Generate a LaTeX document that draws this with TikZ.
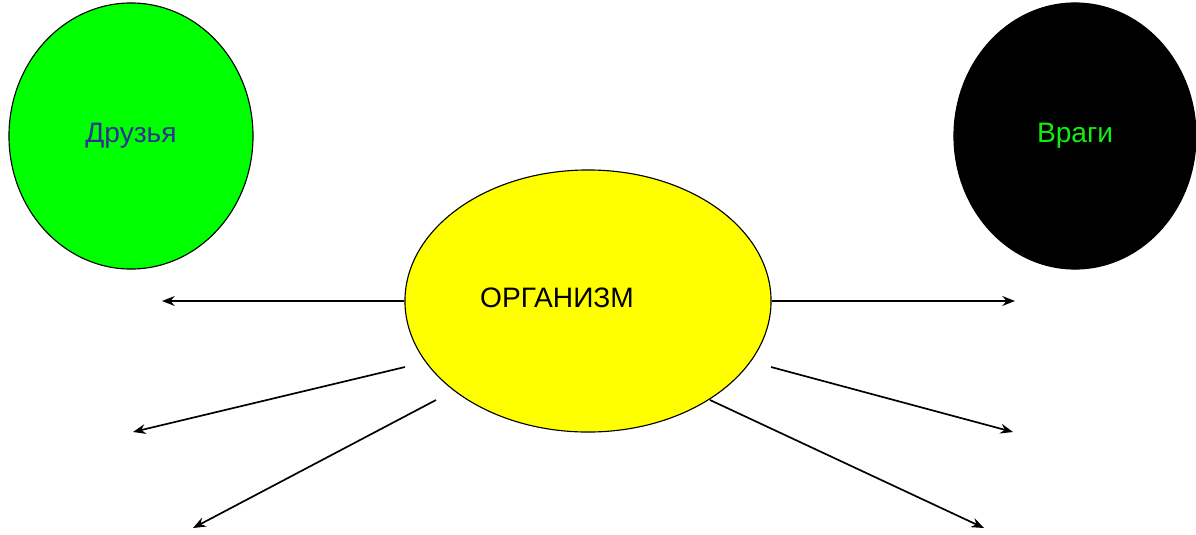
\documentclass[tikz,border=0pt]{standalone}
\usepackage{fontspec}
\setmainfont{Liberation Sans}
\usepackage{tikz}
\usetikzlibrary{arrows.meta}
\usetikzlibrary{shapes.geometric,positioning}

\definecolor{friendgreen}{HTML}{00FF00}
\definecolor{friendtext}{HTML}{2E3192}
\definecolor{enemytext}{HTML}{11EE11}
\definecolor{orgyellow}{HTML}{FFFF00}

\begin{document}
\begin{tikzpicture}[x=0.025cm,y=-0.025cm]
			\useasboundingbox (0,0) rectangle (1196,534);
			\begin{scope}[every node/.style={ellipse,draw,line width=0.8pt,inner sep=0pt,
				font=\fontsize{20}{24}\selectfont}]
				\node[fill=friendgreen,text=friendtext,minimum width=6.1cm,minimum height=6.65cm] (friends) at (131,136) {Друзья};
				\node[fill=black,text=enemytext,minimum width=6.05cm,minimum height=6.65cm] (enemies) at (1075,136) {Враги};
				\node[fill=orgyellow,minimum width=9.15cm,minimum height=6.55cm] (org) at (588,301) {};
			\end{scope}
			\node[font=\fontsize{20}{24}\selectfont,inner sep=0pt] (orglabel) at (557,298) {ОРГАНИЗМ};

			\coordinate (l1) at (162,301);
			\coordinate (r1) at (1015,301);
			\coordinate (s2) at (405,367);
			\coordinate (l2) at (133,432);
			\coordinate (s3) at (436,400);
			\coordinate (l3) at (193,528);
			\coordinate (t2) at (771,367);
			\coordinate (r2) at (1013,432);
			\coordinate (t3) at (710,400);
			\coordinate (r3) at (984,528);

			\begin{scope}[>={Stealth[length=9pt,width=7pt]},
				every path/.style={line width=1.2pt}]
				\draw[->] (org.west) -- (l1);
				\draw[->] (org.east) -- (r1);
				\draw[->] (s2) -- (l2);
				\draw[->] (s3) -- (l3);
				\draw[->] (t2) -- (r2);
				\draw[->] (t3) -- (r3);
			\end{scope}
		\end{tikzpicture}
\end{document}
